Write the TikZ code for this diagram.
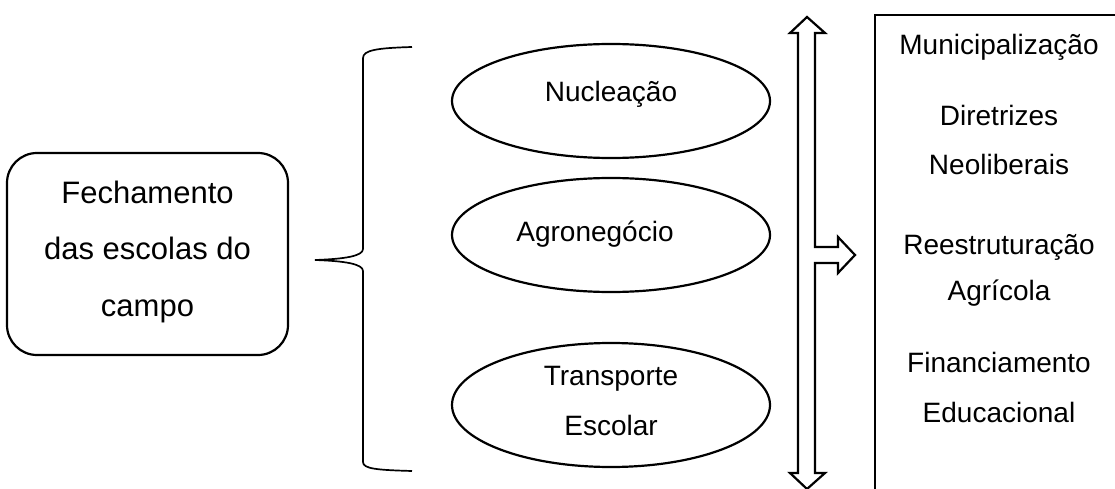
\documentclass[tikz,border=0pt]{standalone}
\usepackage{fontspec}
\setmainfont{Liberation Sans}
\usetikzlibrary{shapes.geometric}
\begin{document}
\begin{tikzpicture}[x=1pt, y=-1pt, line join=miter,
  outline/.style={draw=black, line width=2.2pt},
  lbl/.style={anchor=base, inner sep=0pt, font=\fontsize{28}{34}\selectfont},
  biglbl/.style={anchor=base, inner sep=0pt, font=\fontsize{31}{37}\selectfont},
  oval/.style={outline, ellipse, minimum width=318pt, inner sep=0pt}]
\useasboundingbox (0,0) rectangle (1115,489);

% main subject box
\node[outline, rounded corners=30pt, minimum width=281pt, minimum height=202pt, inner sep=0pt] (fech) at (147.5,254) {};
\node[biglbl] (f1) at (147.5,204) {Fechamento};
\node[biglbl] (f2) at (147.5,259) {das escolas do};
\node[biglbl] (f3) at (147.5,316) {campo};

% brace grouping the three factors
\coordinate (btop) at (412,47);
\coordinate (btip) at (315,260);
\coordinate (bbot) at (412,471);
\draw[line width=1.7pt] (btop) .. controls (378,48) and (363,50) .. (363,58)
  -- (363,249) .. controls (363,256) and (345,259) .. (btip)
  .. controls (345,261) and (363,264) .. (363,271)
  -- (363,462) .. controls (363,469) and (378,470) .. (bbot);

% factors
\node[oval, minimum height=114pt] (nuc) at (611,101) {};
\node[lbl] (nuct) at (611,102) {Nucleação};
\node[oval, minimum height=114pt] (agro) at (611,235) {};
\node[lbl] (agrot) at (595,241) {Agronegócio};
\node[oval, minimum height=124pt] (trans) at (611,405) {};
\node[lbl] (trans1) at (611,385) {Transporte};
\node[lbl] (trans2) at (611,435) {Escolar};

% double arrow with side branch
\draw[outline] (807,17) -- (825,33) -- (815,33) -- (815,247) -- (838,247)
  -- (838,237) -- (855,255) -- (838,273) -- (838,263) -- (815,263)
  -- (815,473) -- (825,473) -- (807,489) -- (790,473) -- (798,473)
  -- (798,33) -- (790,33) -- cycle;

% policy box
\draw[outline] (1125,15) -- (875,15) -- (875,500);
\node[lbl] (p1) at (999,55) {Municipalização};
\node[lbl] (p2) at (999,126) {Diretrizes};
\node[lbl] (p3) at (999,175) {Neoliberais};
\node[lbl] (p4) at (999,254) {Reestruturação};
\node[lbl] (p5) at (999,300) {Agrícola};
\node[lbl] (p6) at (999,372) {Financiamento};
\node[lbl] (p7) at (999,422) {Educacional};
\end{tikzpicture}
\end{document}
